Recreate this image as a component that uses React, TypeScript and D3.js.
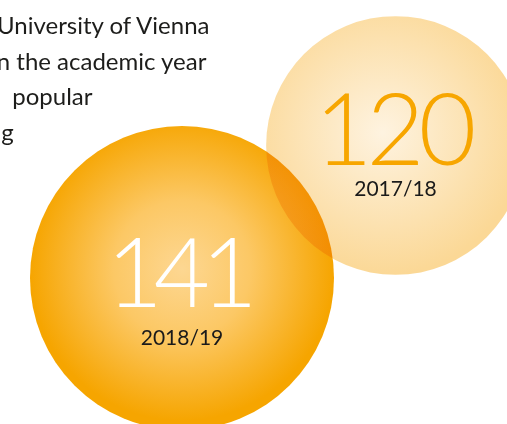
import React from "react";
import * as d3 from "d3";

const years: string[] = ["2017/18", "2018/19"];
const values: number[] = [120, 141];
const introLines: string[] = [
  "University of Vienna",
  "in the academic year",
  "  popular",
  "ing",
];

const W = 507;
const H = 424;

export default function App() {
  const r = d3.scaleLinear().domain([0, 141]).range([0, 152]);
  const centers: [number, number][] = [
    [395.5, 145.5],
    [182, 278],
  ];
  const numOffset = [19.5, 29];
  const yearOffset = [50.5, 67];
  const numSize = [100, 97];
  const numSpacing = [-6, -9];
  const numColor = ["#f7a600", "#ffffff"];
  const lineX = [-3, -9, 0, -18];
  const lineY = d3.range(introLines.length).map((i) => 34 + i * 35.5);

  return (
    <svg
      width={W}
      height={H}
      style={{ position: "absolute", left: 0, top: 0, display: "block" }}
    >
      <defs>
        <radialGradient id="gBig" cx="0.5" cy="0.47" r="0.5">
          <stop offset="0%" stopColor="#fdd792" />
          <stop offset="45%" stopColor="#fcc865" />
          <stop offset="100%" stopColor="#f6a500" />
        </radialGradient>
        <radialGradient id="gSmall" cx="0.45" cy="0.45" r="0.55">
          <stop offset="0%" stopColor="#fef3e0" />
          <stop offset="100%" stopColor="#fbd896" />
        </radialGradient>
      </defs>
      <rect width={W} height={H} fill="#ffffff" />
      <g fontFamily="Lato, 'Noto Sans', sans-serif" fontSize={24} fill="#1d1d1b">
        {introLines.map((t, i) => (
          <text key={i} x={lineX[i]} y={lineY[i]} style={{ whiteSpace: "pre" }}>
            {t}
          </text>
        ))}
      </g>
      <circle
        cx={centers[1][0]}
        cy={centers[1][1]}
        r={r(values[1])}
        fill="url(#gBig)"
      />
      <circle
        cx={centers[0][0]}
        cy={centers[0][1]}
        r={r(values[0])}
        fill="url(#gSmall)"
        style={{ mixBlendMode: "multiply" }}
      />
      {values.map((v, i) => (
        <g key={"t" + i} fontFamily="Lato, 'Noto Sans', sans-serif" textAnchor="middle">
          <text
            x={centers[i][0] + numSpacing[i] / 2}
            y={centers[i][1] + numOffset[i]}
            fontSize={numSize[i]}
            fontWeight={300}
            letterSpacing={numSpacing[i]}
            fill={numColor[i]}
          >
            {String(v)}
          </text>
          <text
            x={centers[i][0]}
            y={centers[i][1] + yearOffset[i]}
            fontSize={21}
            fill="#1a1a1a"
          >
            {years[i]}
          </text>
        </g>
      ))}
    </svg>
  );
}
